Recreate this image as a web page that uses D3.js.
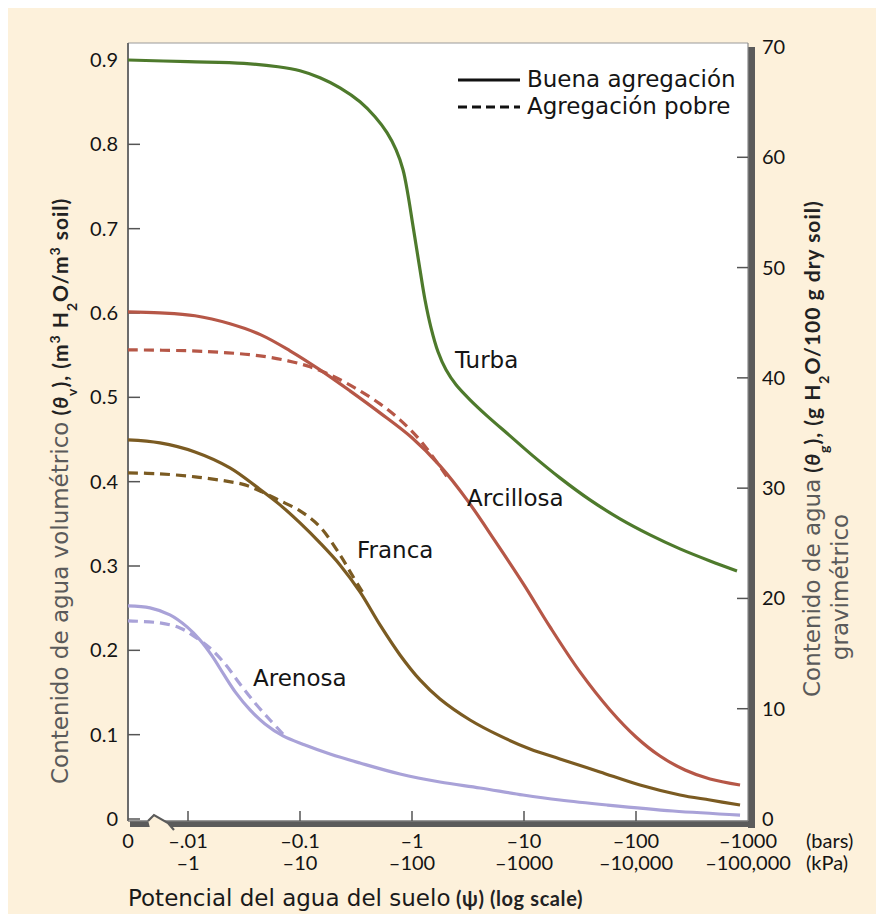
<!DOCTYPE html>
<html>
<head>
<meta charset="utf-8">
<script src="https://cdn.jsdelivr.net/npm/d3@7"></script>
<style>
  body { margin: 0; background: #ffffff; }
  svg { display: block; }
</style>
</head>
<body>
<svg id="chart" width="876" height="914"></svg>
<script>
// Water retention curves: volumetric water content against soil water potential.
// Potentials are magnitudes in bars (0 = saturation), contents in m3/m3.

const turbaPsi   = [0, 0.01, 0.0316, 0.0637, 0.1, 0.1509, 0.2276, 0.3433, 0.4673, 0.598, 0.7197, 0.8311, 0.9206, 1.0, 1.0857, 1.179, 1.306, 1.479, 1.707, 2.013, 2.473, 3.296, 4.677, 7.499, 12.02, 20.94, 38.8, 71.97, 133.4, 247.2, 458, 797.6];
const turbaTheta = [0.900, 0.898, 0.896, 0.892, 0.8873, 0.879, 0.867, 0.8505, 0.8327, 0.8138, 0.7936, 0.7699, 0.7402, 0.7106, 0.6809, 0.6512, 0.6157, 0.5824, 0.554, 0.5326, 0.5148, 0.497, 0.478, 0.4543, 0.4306, 0.4045, 0.3784, 0.3559, 0.3369, 0.3203, 0.3060, 0.2942];

const arcillosaPsi   = [0, 0.00562, 0.01155, 0.0237, 0.0448, 0.0814, 0.1509, 0.2795, 0.5179, 1, 1.78, 3.098, 5.51, 10, 17.06, 31.62, 58.6, 100, 163.8, 273.8, 458, 849];
const arcillosaTheta = [0.6014, 0.6002, 0.5967, 0.5872, 0.5741, 0.5552, 0.5326, 0.5077, 0.4816, 0.452, 0.4187, 0.3784, 0.3298, 0.2776, 0.2278, 0.1744, 0.1293, 0.0973, 0.0747, 0.0581, 0.0474, 0.0403];
const arcillosaPobrePsi   = [0, 0.01, 0.0227, 0.0439, 0.0781, 0.1229, 0.1853, 0.3089, 0.5179, 0.7812, 1.132, 1.54, 2.054];
const arcillosaPobreTheta = [0.5563, 0.5552, 0.5528, 0.5492, 0.5433, 0.5362, 0.5267, 0.5113, 0.4923, 0.4733, 0.452, 0.4294, 0.4057];

const francaPsi   = [0, 0.00562, 0.01155, 0.0237, 0.0422, 0.0663, 0.1, 0.1509, 0.2276, 0.3433, 0.5179, 0.7812, 1.179, 1.778, 3.296, 6.11, 11.31, 20.94, 47.7, 108.6, 247, 458, 849];
const francaTheta = [0.4496, 0.446, 0.4353, 0.4164, 0.3926, 0.3725, 0.3511, 0.3274, 0.3013, 0.2693, 0.2301, 0.1945, 0.1649, 0.1423, 0.1174, 0.0985, 0.083, 0.0712, 0.0558, 0.0403, 0.0285, 0.0225, 0.0166];
const francaPobrePsi   = [0, 0.00562, 0.01155, 0.0214, 0.0323, 0.0458, 0.0637, 0.1, 0.1509, 0.2276, 0.2913, 0.3652];
const francaPobreTheta = [0.4104, 0.4093, 0.4057, 0.4009, 0.3962, 0.3879, 0.3784, 0.3654, 0.3464, 0.3132, 0.2894, 0.2681];

const arenosaPsi   = [0, 0.00458, 0.0069, 0.0098, 0.0128, 0.0164, 0.021, 0.0268, 0.0358, 0.0487, 0.0705, 0.1108, 0.1853, 0.3433, 0.7812, 1.778, 4.05, 9.8, 20.94, 55.1, 214, 849];
const arenosaTheta = [0.2527, 0.2503, 0.242, 0.2278, 0.2123, 0.1934, 0.1708, 0.1495, 0.1293, 0.1127, 0.0985, 0.0878, 0.0771, 0.0664, 0.0534, 0.0439, 0.0368, 0.0285, 0.0225, 0.0166, 0.0095, 0.0047];
const arenosaPobrePsi   = [0, 0.00562, 0.00848, 0.01155, 0.0157, 0.0214, 0.0291, 0.0396, 0.054, 0.0705];
const arenosaPobreTheta = [0.2349, 0.2325, 0.2266, 0.2159, 0.2028, 0.1839, 0.1601, 0.1376, 0.1174, 0.1008];

// Axis ticks
const volTicks  = [0, 0.1, 0.2, 0.3, 0.4, 0.5, 0.6, 0.7, 0.8, 0.9];
const gravTicks = [0, 10, 20, 30, 40, 50, 60, 70];
const psiTicks  = [0.01, 0.1, 1, 10, 100, 1000];
const barLabels = ["\u2013.01", "\u20130.1", "\u20131", "\u201310", "\u2013100", "\u20131000"];
const kpaLabels = ["\u20131", "\u201310", "\u2013100", "\u20131000", "\u201310,000", "\u2013100,000"];

const soilNames  = ["Turba", "Arcillosa", "Franca", "Arenosa"];
const soilColors = ["#4e7a2c", "#b65747", "#7b5b22", "#a9a2d8"];
const legendLabels = ["Buena agregaci\u00f3n", "Agregaci\u00f3n pobre"];

// ---- layout ----
const W = 876, H = 914;
const pL = 128, pR = 748, pT = 43, zeroY = 819, axisY = 821;
const breakGap = 60;
const tickFont = "Lato, 'Open Sans', sans-serif";
const textFont = "'DejaVu Sans', Verdana, sans-serif";
const textSize = 23;

const svg = d3.select("#chart");

const x = d3.scaleLog().domain([0.01, 1000]).range([pL + breakGap, pR]);
const xPos = v => (v === 0 ? pL : x(v));
const yV = d3.scaleLinear().domain([0, 0.9]).range([zeroY, 60]);
const yG = d3.scaleLinear().domain([0, 70]).range([zeroY, 47]);

// background
svg.append("rect").attr("x", 0).attr("y", 0).attr("width", W).attr("height", H).attr("fill", "#ffffff");
svg.append("rect").attr("x", 8).attr("y", 8).attr("width", W - 8).attr("height", H - 8).attr("fill", "#fdf1db");

// plot panel with shadow on right and bottom
svg.append("rect").attr("x", pR).attr("y", pT + 4).attr("width", 7).attr("height", axisY - pT + 3).attr("fill", "#5b5b5b");
svg.append("rect").attr("x", pL + 2).attr("y", axisY).attr("width", pR - pL + 5).attr("height", 6).attr("fill", "#5b5b5b");
svg.append("rect").attr("x", pL).attr("y", pT).attr("width", pR - pL).attr("height", axisY - pT).attr("fill", "#ffffff");
svg.append("line").attr("x1", pL).attr("x2", pR).attr("y1", pT).attr("y2", pT).attr("stroke", "#9a9a9a").attr("stroke-width", 1);
svg.append("line").attr("x1", pR).attr("x2", pR).attr("y1", pT).attr("y2", axisY).attr("stroke", "#8a8a8a").attr("stroke-width", 1.2);
svg.append("line").attr("x1", pL).attr("x2", pL).attr("y1", pT).attr("y2", axisY).attr("stroke", "#6c6c6c").attr("stroke-width", 2);
svg.append("line").attr("x1", pL).attr("x2", pR).attr("y1", axisY).attr("y2", axisY).attr("stroke", "#777").attr("stroke-width", 1.5);

// axis break between 0 and -.01
svg.append("polygon")
  .attr("points", [[pL + 20, axisY - 1], [pL + 26, axisY - 7], [pL + 40, axisY + 2], [pL + 46, axisY + 9], [pL + 40, axisY + 9], [pL + 22, axisY + 7]].join(" "))
  .attr("fill", "#fdf1db");
svg.append("path")
  .attr("d", `M${pL + 20},${axisY} L${pL + 26},${axisY - 6} L${pL + 40},${axisY + 2} L${pL + 46},${axisY + 9}`)
  .attr("fill", "none").attr("stroke", "#5b5b5b").attr("stroke-width", 2.2);

// left ticks and labels
const gLeft = svg.append("g");
gLeft.selectAll("line").data(volTicks).join("line")
  .attr("x1", pL).attr("x2", pL + 12)
  .attr("y1", d => yV(d)).attr("y2", d => yV(d))
  .attr("stroke", "#555").attr("stroke-width", 1.5);
gLeft.selectAll("text").data(volTicks).join("text")
  .attr("x", pL - 10).attr("y", d => yV(d)).attr("dy", "0.35em")
  .attr("text-anchor", "end")
  .attr("font-family", tickFont).attr("font-size", 20).attr("fill", "#141414")
  .text(d => (d === 0 ? "0" : d3.format(".1f")(d)));

// right ticks and labels
const gRight = svg.append("g");
gRight.selectAll("line").data(gravTicks.filter(d => d > 0 && d < 70)).join("line")
  .attr("x1", pR - 11).attr("x2", pR)
  .attr("y1", d => yG(d)).attr("y2", d => yG(d))
  .attr("stroke", "#555").attr("stroke-width", 1.5);
gRight.selectAll("text").data(gravTicks).join("text")
  .attr("x", pR + 14).attr("y", d => yG(d)).attr("dy", "0.35em")
  .attr("text-anchor", "start")
  .attr("font-family", tickFont).attr("font-size", 20).attr("fill", "#141414")
  .text(d => d);

// bottom ticks and labels
const gBottom = svg.append("g");
gBottom.selectAll("line").data(psiTicks.filter(d => d < 1000)).join("line")
  .attr("x1", d => x(d)).attr("x2", d => x(d))
  .attr("y1", axisY).attr("y2", axisY - 10)
  .attr("stroke", "#555").attr("stroke-width", 1.5);
gBottom.selectAll("text.bars").data(psiTicks).join("text").attr("class", "bars")
  .attr("x", d => x(d)).attr("y", 848).attr("text-anchor", "middle")
  .attr("font-family", tickFont).attr("font-size", 20).attr("fill", "#141414")
  .text((d, i) => barLabels[i]);
gBottom.selectAll("text.kpa").data(psiTicks).join("text").attr("class", "kpa")
  .attr("x", d => x(d)).attr("y", 870).attr("text-anchor", "middle")
  .attr("font-family", tickFont).attr("font-size", 20).attr("fill", "#141414")
  .text((d, i) => kpaLabels[i]);
gBottom.append("text").attr("x", xPos(0)).attr("y", 848).attr("text-anchor", "middle")
  .attr("font-family", tickFont).attr("font-size", 20).attr("fill", "#141414").text("0");
gBottom.append("text").attr("x", 806).attr("y", 848)
  .attr("font-family", tickFont).attr("font-size", 20).attr("fill", "#141414").text("(bars)");
gBottom.append("text").attr("x", 806).attr("y", 870)
  .attr("font-family", tickFont).attr("font-size", 20).attr("fill", "#141414").text("(kPa)");

// curves
const line = d3.line().x(d => xPos(d[0])).y(d => yV(d[1])).curve(d3.curveCatmullRom.alpha(0.5));
const zip = (a, b) => a.map((v, i) => [v, b[i]]);

const series = [
  { pts: zip(turbaPsi, turbaTheta), color: soilColors[0], dashed: false },
  { pts: zip(arcillosaPobrePsi, arcillosaPobreTheta), color: soilColors[1], dashed: true },
  { pts: zip(arcillosaPsi, arcillosaTheta), color: soilColors[1], dashed: false },
  { pts: zip(francaPobrePsi, francaPobreTheta), color: soilColors[2], dashed: true },
  { pts: zip(francaPsi, francaTheta), color: soilColors[2], dashed: false },
  { pts: zip(arenosaPobrePsi, arenosaPobreTheta), color: soilColors[3], dashed: true },
  { pts: zip(arenosaPsi, arenosaTheta), color: soilColors[3], dashed: false }
];

svg.append("g").selectAll("path").data(series).join("path")
  .attr("d", d => line(d.pts))
  .attr("fill", "none")
  .attr("stroke", d => d.color)
  .attr("stroke-width", 3.2)
  .attr("stroke-linecap", "butt")
  .attr("stroke-dasharray", d => (d.dashed ? "10,6" : null));

// curve labels
const labelPos = [[455, 368], [467, 506], [357, 558], [253, 686]];
svg.append("g").selectAll("text").data(soilNames).join("text")
  .attr("x", (d, i) => labelPos[i][0]).attr("y", (d, i) => labelPos[i][1])
  .attr("font-family", textFont).attr("font-size", textSize).attr("fill", "#151515")
  .text(d => d);

// legend
const gLeg = svg.append("g");
legendLabels.forEach((lab, i) => {
  const ly = 80 + i * 27;
  gLeg.append("line").attr("x1", 458).attr("x2", 520).attr("y1", ly).attr("y2", ly)
    .attr("stroke", "#111").attr("stroke-width", 3.2)
    .attr("stroke-dasharray", i === 1 ? "9,5" : null);
  gLeg.append("text").attr("x", 527).attr("y", ly + 7)
    .attr("font-family", textFont).attr("font-size", textSize).attr("fill", "#151515")
    .text(lab);
});

// axis titles; the unit part is set in a bold face with sub/superscripts
function unitText(sel, sym, sub, rest) {
  const bold = t => t.attr("font-family", tickFont).attr("font-weight", 700).attr("fill", "#222").attr("letter-spacing", 1);
  bold(sel.append("tspan")).attr("font-size", 21).text(" (");
  bold(sel.append("tspan")).attr("font-size", 21).attr("font-style", "italic").text(sym);
  bold(sel.append("tspan")).attr("font-size", 14).attr("baseline-shift", "sub").text(sub);
  rest.forEach(r => {
    const t = bold(sel.append("tspan")).attr("font-size", r.s ? 14 : 21).text(r.t);
    if (r.s) t.attr("baseline-shift", r.s);
  });
}

const leftTitle = svg.append("text")
  .attr("transform", "translate(68,784) rotate(-90)")
  .attr("font-family", textFont).attr("font-size", textSize).attr("fill", "#5a5a5a");
leftTitle.append("tspan").text("Contenido de agua volum\u00e9trico");
unitText(leftTitle, "\u03b8", "v", [
  { t: "), (m" }, { t: "3", s: "super" }, { t: " H" }, { t: "2", s: "sub" }, { t: "O/m" }, { t: "3", s: "super" }, { t: " soil)" }
]);

const rightTitle = svg.append("text")
  .attr("transform", "translate(820,697) rotate(-90)")
  .attr("font-family", textFont).attr("font-size", textSize).attr("fill", "#5a5a5a");
rightTitle.append("tspan").text("Contenido de agua");
unitText(rightTitle, "\u03b8", "g", [
  { t: "), (g H" }, { t: "2", s: "sub" }, { t: "O/100 g dry soil)" }
]);
svg.append("text")
  .attr("transform", "translate(848,587) rotate(-90)")
  .attr("text-anchor", "middle")
  .attr("font-family", textFont).attr("font-size", textSize).attr("fill", "#5a5a5a")
  .text("gravim\u00e9trico");

const bottomTitle = svg.append("text").attr("x", 128).attr("y", 906)
  .attr("font-family", textFont).attr("font-size", textSize).attr("fill", "#1a1a1a");
bottomTitle.append("tspan").text("Potencial del agua del suelo");
bottomTitle.append("tspan").attr("font-family", tickFont).attr("font-weight", 700).attr("font-size", 20)
  .attr("letter-spacing", 0.6).attr("fill", "#222").text(" (\u03c8) (log scale)");
</script>
</body>
</html>
